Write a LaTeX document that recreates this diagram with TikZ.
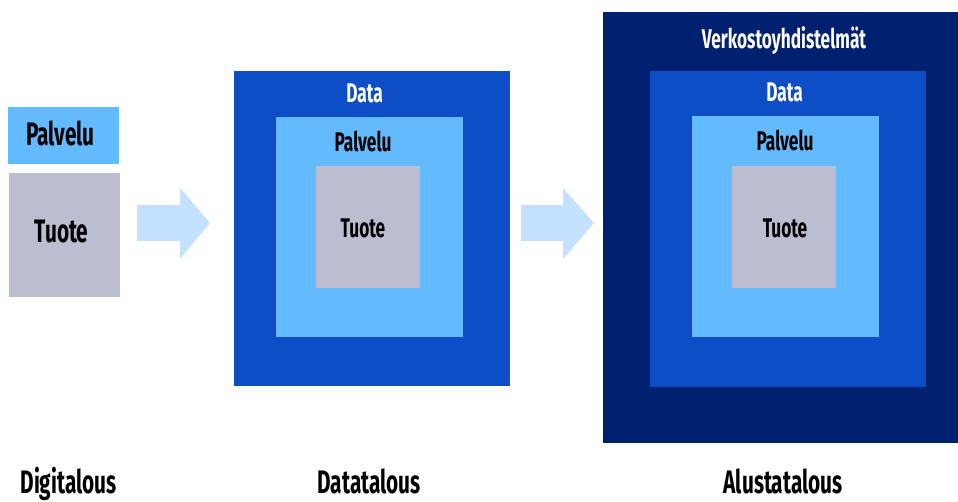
\documentclass[tikz,border=0pt]{standalone}
\usepackage{fontspec}
\setmainfont{Fira Sans}[FakeStretch=0.64]
\definecolor{navy}{HTML}{00216F}
\definecolor{midblue}{HTML}{0D4EC7}
\definecolor{lightblue}{HTML}{63BAFE}
\definecolor{greybox}{HTML}{BBBDD0}
\definecolor{arrowfill}{HTML}{C4E2FF}
\tikzset{
  box/.style={anchor=north west, inner sep=0pt, outer sep=0pt, draw=none},
  lbl/.style={anchor=base, inner sep=0pt, font=\bfseries\fontsize{27}{30}\selectfont},
  biglbl/.style={anchor=base, inner sep=0pt, font=\bfseries\fontsize{32.5}{36}\selectfont},
  blockarrow/.style={fill=arrowfill, draw=none}
}
\begin{document}
\begin{tikzpicture}[x=1pt,y=-1pt]
\useasboundingbox (0,0) rectangle (958,502);
% left
\node[box, fill=lightblue, minimum width=111pt, minimum height=57pt] (lpal) at (8,107) {};
\node[box, fill=greybox, minimum width=111pt, minimum height=124pt] (ltuo) at (9,173) {};
\node[biglbl] (lpalt) at (60.5,146) {Palvelu};
\node[biglbl] (ltuot) at (61.5,243) {Tuote};
% arrow 1
\fill[blockarrow] (137,205) -- (180,205) -- (180,188) -- (210,223) -- (180,259) -- (180,241) -- (137,241) -- cycle;
% middle
\node[box, fill=midblue, minimum width=276pt, minimum height=315pt] (mdat) at (234,71) {};
\node[box, fill=lightblue, minimum width=187pt, minimum height=220pt] (mpal) at (276,117) {};
\node[box, fill=greybox, minimum width=104pt, minimum height=122pt] (mtuo) at (316,166) {};
\node[lbl, text=white] (mdatt) at (364.5,103) {Data};
\node[lbl] (mpalt) at (363,152) {Palvelu};
\node[lbl] (mtuot) at (363,238) {Tuote};
% arrow 2
\fill[blockarrow] (521,205) -- (563,205) -- (563,188) -- (594,223) -- (563,259) -- (563,241) -- (521,241) -- cycle;
% right
\node[box, fill=navy, minimum width=355pt, minimum height=431pt] (rnet) at (603,12) {};
\node[box, fill=midblue, minimum width=276pt, minimum height=316pt] (rdat) at (650,71) {};
\node[box, fill=lightblue, minimum width=187pt, minimum height=221pt] (rpal) at (692,116) {};
\node[box, fill=greybox, minimum width=104pt, minimum height=122pt] (rtuo) at (732,166) {};
\node[lbl, text=white] (rnett) at (784,49) {Verkostoyhdistelmät};
\node[lbl, text=white] (rdatt) at (784.5,102) {Data};
\node[lbl] (rpalt) at (785,151) {Palvelu};
\node[lbl] (rtuot) at (785,238) {Tuote};
% bottom
\node[biglbl] (b1) at (68.5,493) {Digitalous};
\node[biglbl] (b2) at (369,493) {Datatalous};
\node[biglbl] (b3) at (783,493) {Alustatalous};
\end{tikzpicture}
\end{document}
